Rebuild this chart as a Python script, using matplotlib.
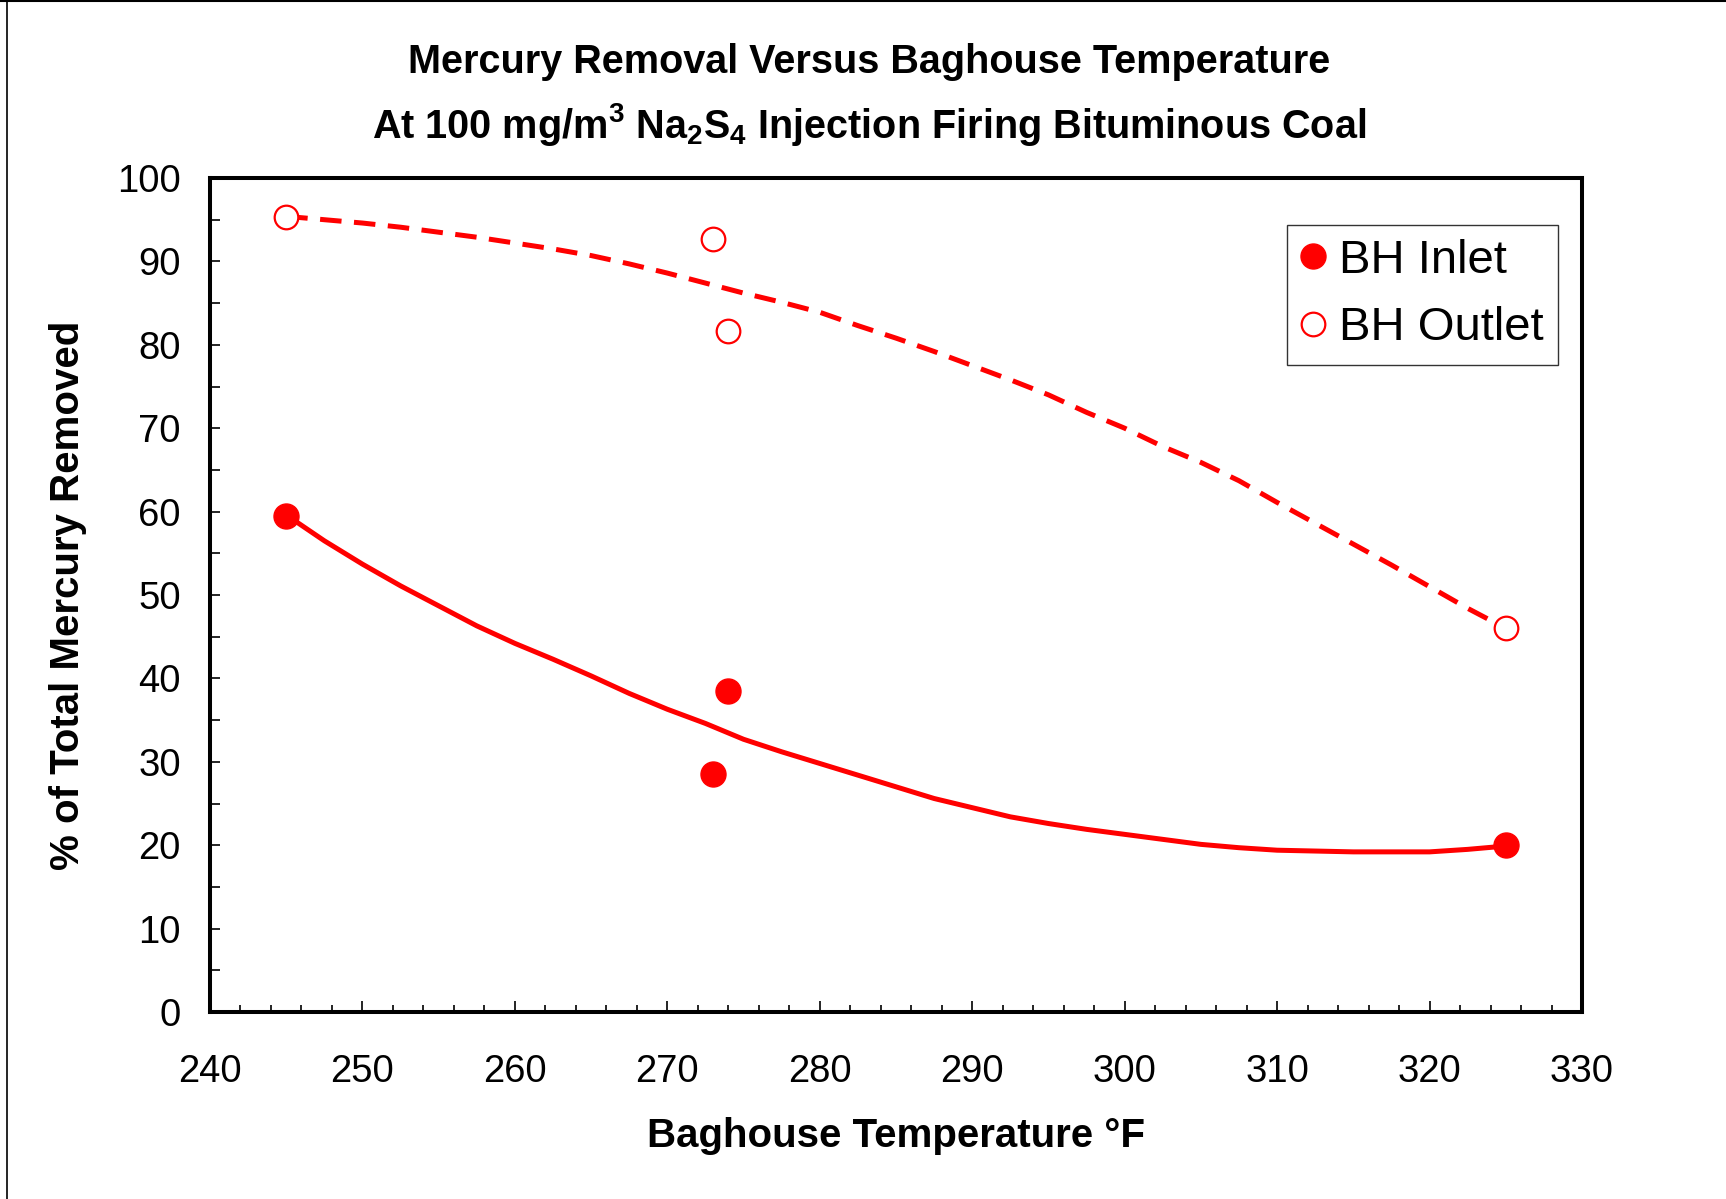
import matplotlib
matplotlib.use("Agg")
import matplotlib.pyplot as plt
from matplotlib.lines import Line2D
from matplotlib.ticker import MultipleLocator

plt.rcParams['font.family'] = ['Liberation Sans', 'DejaVu Sans']
plt.rcParams['mathtext.default'] = 'regular'

# measured points
temp = [245, 273, 274, 325]
inlet = [59.5, 28.5, 38.5, 20.0]
outlet = [95.3, 92.7, 81.7, 46.0]

# trendlines
trend_temp = [245, 247.5, 250, 252.5, 255, 257.5, 260, 262.5, 265, 267.5,
              270, 272.5, 275, 277.5, 280, 282.5, 285, 287.5, 290, 292.5,
              295, 297.5, 300, 302.5, 305, 307.5, 310, 312.5, 315, 317.5,
              320, 322.5, 325]
inlet_trend = [59.6, 56.5, 53.7, 51.1, 48.7, 46.3, 44.2, 42.3, 40.3, 38.2,
               36.3, 34.6, 32.7, 31.2, 29.8, 28.4, 27.0, 25.6, 24.5, 23.4,
               22.6, 21.9, 21.3, 20.7, 20.1, 19.7, 19.4, 19.3, 19.2, 19.2,
               19.2, 19.5, 19.9]
outlet_trend = [95.4, 95.0, 94.6, 94.1, 93.5, 92.9, 92.2, 91.5, 90.7, 89.7,
                88.6, 87.4, 86.2, 85.1, 83.9, 82.3, 80.8, 79.2, 77.5, 75.8,
                74.0, 71.9, 70.0, 67.8, 65.9, 63.7, 61.1, 58.6, 56.1, 53.6,
                51.0, 48.4, 46.0]

fig = plt.figure(figsize=(17.26, 11.99), dpi=100)
ax = fig.add_axes([210 / 1726, 1 - 1012 / 1199, 1372 / 1726, 834 / 1199])

ax.plot(trend_temp, inlet_trend, color='red', lw=3.6, solid_joinstyle='round')
ax.plot(trend_temp, outlet_trend, color='red', lw=3.6, dashes=(4.3, 2.5))
ax.plot(temp, inlet, 'o', color='red', ms=18, label='BH Inlet', zorder=5)
ax.plot(temp, outlet, 'o', mfc='white', mec='red', mew=1.6, ms=17,
        label='BH Outlet', zorder=5)

ax.set_xlim(240, 330)
ax.set_ylim(0, 100)
ax.xaxis.set_major_locator(MultipleLocator(10))
ax.xaxis.set_minor_locator(MultipleLocator(2))
ax.yaxis.set_major_locator(MultipleLocator(10))
ax.yaxis.set_minor_locator(MultipleLocator(5))
ax.tick_params(which='both', direction='in', width=1.2, labelsize=27.5)
ax.tick_params(axis='x', which='major', length=8, pad=30)
ax.tick_params(axis='x', which='minor', length=5)
ax.tick_params(axis='y', which='major', length=7, pad=21)
ax.tick_params(axis='y', which='minor', length=7)
for s in ax.spines.values():
    s.set_linewidth(2.9)

ax.set_xlabel('Baghouse Temperature °F', fontsize=29, fontweight='bold')
ax.set_ylabel('% of Total Mercury Removed', fontsize=29, fontweight='bold')
ax.xaxis.set_label_coords(0.5, -0.149)
ax.yaxis.set_label_coords(-0.1035, 0.5)
ax.xaxis.label.set_va('center')
ax.yaxis.label.set_va('center')

leg = ax.legend(loc='upper right', bbox_to_anchor=(0.9825, 0.944),
                borderaxespad=0, fontsize=34, frameon=True, fancybox=False,
                handlelength=0.5, handletextpad=0.3, labelspacing=0.5,
                borderpad=0.3)
leg.get_frame().set_edgecolor('black')
leg.get_frame().set_linewidth(1.0)

fig.text(0.5035, 1 - 62 / 1199, 'Mercury Removal Versus Baghouse Temperature',
         ha='center', va='center', fontsize=28.5, fontweight='bold')
fig.text(0.5035, 1 - 124 / 1199,
         'At 100 mg/m$^3$ Na$_2$S$_4$ Injection Firing Bituminous Coal',
         ha='center', va='center', fontsize=28.5, fontweight='bold')

# outer frame lines (top and left)
fig.add_artist(Line2D([7 / 1726, 7 / 1726], [0, 1], color='black', lw=1.2))
fig.add_artist(Line2D([0, 1], [1 - 1 / 1199, 1 - 1 / 1199], color='black', lw=1.5))

fig.savefig('out.png', dpi=100)
